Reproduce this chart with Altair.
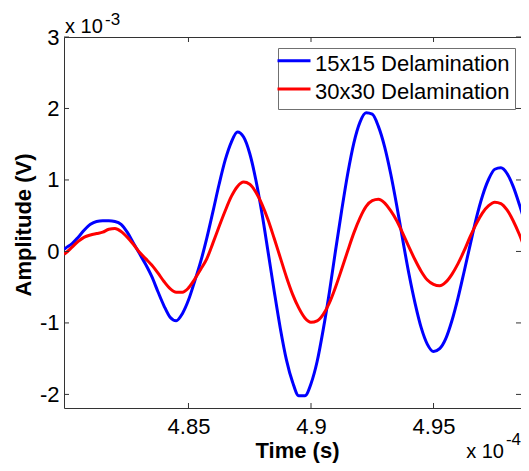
import altair as alt
import pandas as pd

# time in units of 1e-4 s
TIME = [4.7992,
        4.8000, 4.8025, 4.8050, 4.8075, 4.8100, 4.8125, 4.8150, 4.8175, 4.8200, 4.8225,
        4.8250, 4.8275, 4.8300, 4.8325, 4.8350, 4.8375, 4.8400, 4.8425, 4.8450, 4.8475,
        4.8500, 4.8525, 4.8550, 4.8575, 4.8600, 4.8625, 4.8650, 4.8675, 4.8700, 4.8725,
        4.8750, 4.8775, 4.8800, 4.8825, 4.8850, 4.8875, 4.8900, 4.8925, 4.8950, 4.8975,
        4.9000, 4.9025, 4.9050, 4.9075, 4.9100, 4.9125, 4.9150, 4.9175, 4.9200, 4.9225,
        4.9250, 4.9275, 4.9300, 4.9325, 4.9350, 4.9375, 4.9400, 4.9425, 4.9450, 4.9475,
        4.9500, 4.9525, 4.9550, 4.9575, 4.9600, 4.9625, 4.9650, 4.9675, 4.9700, 4.9725,
        4.9750, 4.9775, 4.9800, 4.9825, 4.9850, 4.9875,
        4.9890]

# amplitude in units of 1e-3 V
BLUE = [0.03,
        0.05, 0.11, 0.20, 0.30, 0.38, 0.42, 0.43, 0.43, 0.42, 0.38,
        0.27, 0.12, -0.03, -0.18, -0.35, -0.56, -0.76, -0.92, -0.97, -0.87,
        -0.68, -0.42, -0.14, 0.19, 0.56, 0.94, 1.28, 1.53, 1.67, 1.60,
        1.37, 1.00, 0.53, -0.01, -0.56, -1.08, -1.52, -1.83, -2.02, -2.02,
        -1.85, -1.54, -1.09, -0.57, 0.01, 0.57, 1.09, 1.52, 1.81, 1.94,
        1.92, 1.75, 1.47, 1.09, 0.64, 0.15, -0.32, -0.73, -1.07, -1.30,
        -1.40, -1.36, -1.22, -0.97, -0.65, -0.28, 0.10, 0.47, 0.78, 1.01,
        1.15, 1.17, 1.09, 0.91, 0.66, 0.38,
        0.20]

RED = [-0.04,
       -0.02, 0.06, 0.14, 0.20, 0.23, 0.25, 0.27, 0.31, 0.32, 0.28,
       0.20, 0.10, -0.01, -0.10, -0.19, -0.30, -0.42, -0.52, -0.57, -0.57,
       -0.51, -0.39, -0.25, -0.10, 0.12, 0.35, 0.57, 0.77, 0.91, 0.97,
       0.94, 0.83, 0.66, 0.44, 0.18, -0.09, -0.36, -0.60, -0.79, -0.93,
       -0.99, -0.97, -0.88, -0.72, -0.50, -0.25, 0.01, 0.26, 0.47, 0.63,
       0.71, 0.73, 0.68, 0.57, 0.43, 0.25, 0.06, -0.12, -0.28, -0.40,
       -0.46, -0.48, -0.43, -0.32, -0.17, 0.01, 0.21, 0.39, 0.54, 0.64,
       0.69, 0.67, 0.58, 0.43, 0.24, 0.02,
       -0.11]

SERIES = ["15x15 Delamination", "30x30 Delamination"]
COLORS = ["#0000FF", "#FF0000"]
X_TICKS = [4.85, 4.9, 4.95]
Y_TICKS = [-2, -1, 0, 1, 2, 3]
X_DOMAIN = [4.7992, 4.9857]
Y_DOMAIN = [-2.19, 3.0]
X_TITLE = "Time (s)"
Y_TITLE = "Amplitude (V)"
Y_EXP = ["x 10", "-3"]
X_EXP = ["x 10", "-4"]

df = pd.DataFrame({
    "t": TIME + TIME,
    "v": BLUE + RED,
    "series": [SERIES[0]] * len(TIME) + [SERIES[1]] * len(TIME),
})

W, H = 457, 371
FONT = "Liberation Sans"
AX = "#333333"

xs = alt.Scale(domain=X_DOMAIN, nice=False, zero=False)
ys = alt.Scale(domain=Y_DOMAIN, nice=False, zero=False)

lines = alt.Chart(df).mark_line(strokeWidth=3, interpolate="monotone", clip=True).encode(
    x=alt.X("t:Q", scale=xs, axis=None),
    y=alt.Y("v:Q", scale=ys, axis=None),
    color=alt.Color("series:N", scale=alt.Scale(domain=SERIES, range=COLORS),
                    legend=alt.Legend(
                        title=None, orient="none", legendX=214, legendY=11,
                        padding=5, rowPadding=6.4, fillColor="white",
                        strokeColor="#707070", cornerRadius=0,
                        symbolType="M-1.737,-0.347L1.737,-0.347", symbolSize=361,
                        symbolStrokeWidth=3, labelFont=FONT, labelFontSize=22,
                        labelOffset=10, labelColor="black", labelLimit=400)),
)

xt = pd.DataFrame({"t": X_TICKS})
yt = pd.DataFrame({"v": Y_TICKS})

bottom_ticks = alt.Chart(xt).mark_rule(color=AX, strokeWidth=1).encode(
    x=alt.X("t:Q", scale=xs, axis=alt.Axis(
        orient="bottom", values=X_TICKS, labelExpr="'' + datum.value",
        ticks=False, tickSize=0, labelPadding=8, grid=False,
        domainColor=AX, domainWidth=1, labelFont=FONT, labelFontSize=22,
        labelColor="black", labelFlush=False, labelOverlap=False,
        title=X_TITLE, titleFont=FONT, titleFontSize=22, titleFontWeight="bold",
        titleColor="black", titleX=233, titleY=49, titleBaseline="alphabetic",
        titleAlign="center")),
    y=alt.value(H), y2=alt.value(H - 5))

top_ticks = alt.Chart(xt).mark_rule(color=AX, strokeWidth=1).encode(
    x=alt.X("t:Q", scale=xs, axis=alt.Axis(
        orient="top", values=X_TICKS, labels=False, ticks=False, tickSize=0,
        grid=False, domainColor=AX, domainWidth=1, title=None)),
    y=alt.value(0), y2=alt.value(5))

left_ticks = alt.Chart(yt).mark_rule(color=AX, strokeWidth=1).encode(
    y=alt.Y("v:Q", scale=ys, axis=alt.Axis(
        orient="left", values=Y_TICKS, labelExpr="'' + datum.value",
        ticks=False, tickSize=0, labelPadding=5, grid=False,
        domainColor=AX, domainWidth=1, labelFont=FONT, labelFontSize=22,
        labelColor="black", labelFlush=False, labelOverlap=False,
        title=Y_TITLE, titleFont=FONT, titleFontSize=22, titleFontWeight="bold",
        titleColor="black", titleX=-41, titleY=187.5, titleAngle=270,
        titleAlign="center", titleBaseline="middle")),
    x=alt.value(0), x2=alt.value(5))

right_ticks = alt.Chart(yt).mark_rule(color=AX, strokeWidth=1).encode(
    y=alt.Y("v:Q", scale=ys, axis=None), x=alt.value(W - 5), x2=alt.value(W))


def label(txt, tval, vval, size, align, dx, dy):
    d = pd.DataFrame({"t": [tval], "v": [vval], "s": [txt]})
    return alt.Chart(d).mark_text(
        font=FONT, fontSize=size, align=align, baseline="alphabetic",
        dx=dx, dy=dy, color="black").encode(
        x=alt.X("t:Q", scale=xs, axis=None),
        y=alt.Y("v:Q", scale=ys, axis=None),
        text="s:N")


ye1 = label(Y_EXP[0], X_DOMAIN[0], Y_DOMAIN[1], 20, "left", 1, -4)
ye2 = label(Y_EXP[1], X_DOMAIN[0], Y_DOMAIN[1], 17, "left", 41, -12)
xe1 = label(X_EXP[0], X_DOMAIN[1], Y_DOMAIN[0], 20, "right", -17, 50)
xe2 = label(X_EXP[1], X_DOMAIN[1], Y_DOMAIN[0], 17, "right", 0, 37)

chart = alt.layer(
    lines, bottom_ticks, top_ticks, left_ticks, right_ticks, ye1, ye2, xe1, xe2
).resolve_axis(x="independent", y="independent").properties(
    width=W, height=H,
    autosize=alt.AutoSizeParams(type="none"),
    padding={"left": 56, "top": 29, "right": 0, "bottom": 55},
    background="white",
).configure_view(strokeWidth=0)

chart.save("out.html", embed_options={"renderer": "svg", "actions": False})
